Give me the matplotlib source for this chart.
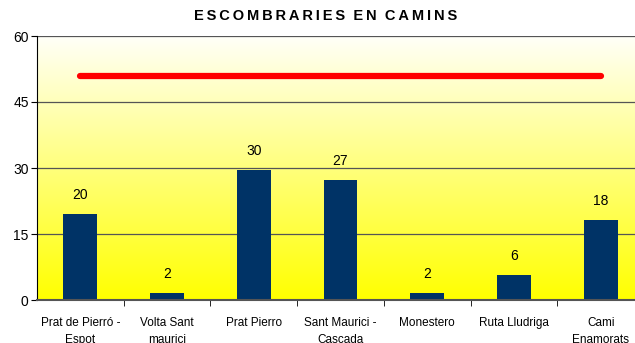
import numpy as np
import matplotlib.pyplot as plt
from matplotlib.colors import LinearSegmentedColormap

plt.rcParams['font.family'] = ['Liberation Sans', 'DejaVu Sans']

# dades
camins = ['Prat de Pierró -\nEspot', 'Volta Sant\nmaurici', 'Prat Pierro',
          'Sant Maurici -\nCascada', 'Monestero', 'Ruta Lludriga', 'Cami\nEnamorats']
escombraries = [19.6, 1.6, 29.5, 27.3, 1.6, 5.7, 18.2]
limit = [51, 51, 51, 51, 51, 51, 51]
yticks = [0, 15, 30, 45, 60]
titol = 'ESCOMBRARIES EN CAMINS'

x = np.arange(len(camins))

fig = plt.figure(figsize=(6.35, 3.43), dpi=100)
ax = fig.add_axes([37/635, 43/343, 607/635, 264/343])

# fons degradat blanc -> groc
cmap = LinearSegmentedColormap.from_list('fons', ['#ffff00', '#fffff8'])
grad = np.linspace(0, 1, 256).reshape(-1, 1)
ax.imshow(grad, cmap=cmap, aspect='auto', origin='lower',
          extent=[-0.5, 6.5, 0, 60], zorder=0)

for yv in yticks[1:]:
    ax.axhline(yv, color='#555555', lw=0.9, zorder=1)

ax.bar(x, escombraries, width=0.39, color='#003366', zorder=2)
ax.plot(x, limit, color='#ff0000', lw=4.5, solid_capstyle='round', zorder=3)

for xi, v in zip(x, escombraries):
    ax.annotate(f'{v:.0f}', (xi, v), xytext=(0, 8.5), textcoords='offset points',
                ha='center', va='bottom', fontsize=10)

ax.set_xlim(-0.5, 6.5)
ax.set_ylim(0, 60)
ax.set_yticks(yticks)
ax.tick_params(axis='y', length=4, labelsize=10, pad=2)

ax.set_xticks(x)
ax.set_xticklabels(camins, fontsize=8.5, linespacing=1.6)
ax.tick_params(axis='x', length=0, pad=12)
ax.set_xticks(np.arange(0.5, 6.5, 1), minor=True)
ax.tick_params(axis='x', which='minor', length=4, direction='out')

for s in ['top', 'right']:
    ax.spines[s].set_visible(False)
ax.spines['left'].set_color('black')
ax.spines['bottom'].set_color('#555555')
ax.spines['bottom'].set_linewidth(1.5)

# títol amb les lletres espaiades
titol_espaiat = '  '.join('\u2009'.join(w) for w in titol.split(' '))
fig.text(326/635, 1 - 16/343, titol_espaiat, ha='center', va='center',
         fontsize=10.5, fontweight='bold')

fig.savefig('out.png', dpi=100)
